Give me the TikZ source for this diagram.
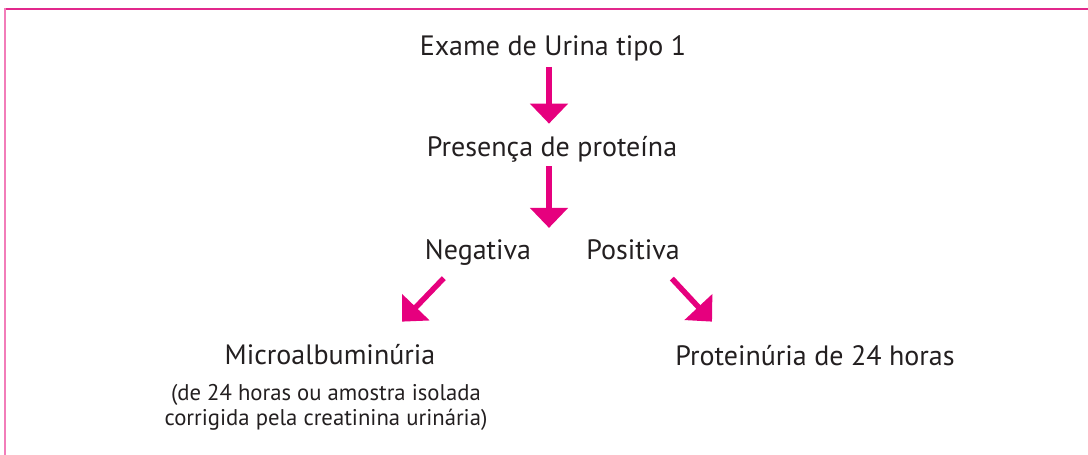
\documentclass[tikz,border=0pt]{standalone}
\usepackage{fontspec}
\setmainfont{PT Sans}
\usepackage{tikz}
\usetikzlibrary{arrows.meta}
\usetikzlibrary{calc}
\usetikzlibrary{positioning}
\definecolor{ragenta}{RGB}{230,0,126}
\definecolor{frametop}{RGB}{226,40,140}
\definecolor{frameleft}{RGB}{242,125,185}
\definecolor{txtgray}{RGB}{35,31,32}

\begin{document}
\begin{tikzpicture}[x=1pt, y=-1pt]

\newcommand\shaftw{5.5pt}

\useasboundingbox (0,0) rectangle (1088,455);

% frame
\draw[frametop, line width=1.6pt] (5,9) -- (1088,9);
\draw[frameleft, line width=2.2pt] (5,8.2) -- (5,455);

\tikzset{
	lbl/.style={text=txtgray, inner sep=0pt, anchor=base, font=\fontsize{28}{30}\selectfont},
	bigarrow/.style={ragenta, line width=\shaftw, -{Triangle[width=37pt, length=20pt]}}
}

\node at (553,55) [lbl] (exame) {Exame de Urina tipo 1};
\node at (552,156) [lbl] (presenca) {Presença de proteína};
\node at (478,259) [lbl] (negativa) {Negativa};
\node at (633,259) [lbl] (positiva) {Positiva};

\node at (330,364) [lbl] (micro) {Microalbuminúria};
\node at (326,425) [lbl, font=\fontsize{22.7}{25}\selectfont, align=center] (obs) {(de 24 horas ou amostra isolada\\corrigida pela creatinina urinária)};
\node at (815,365) [lbl] (proteinuria) {Proteinúria de 24 horas};

\draw[bigarrow] ($(exame.south)+(-4,6)$) -- ($(exame.south |- presenca.north)+(-4,-12)$);
\draw[bigarrow] ($(presenca.south)+(-3,4)$) -- ($(presenca.south |- negativa.north)+(-3,-11)$);
\draw[bigarrow] ($(negativa.south west)+(19,13)$) -- ($(micro.north)+(72,-22)$);
\draw[bigarrow] ($(positiva.south east)+(-8,19)$) -- ($(proteinuria.north)+(-103,-23)$);

\end{tikzpicture}
\end{document}
